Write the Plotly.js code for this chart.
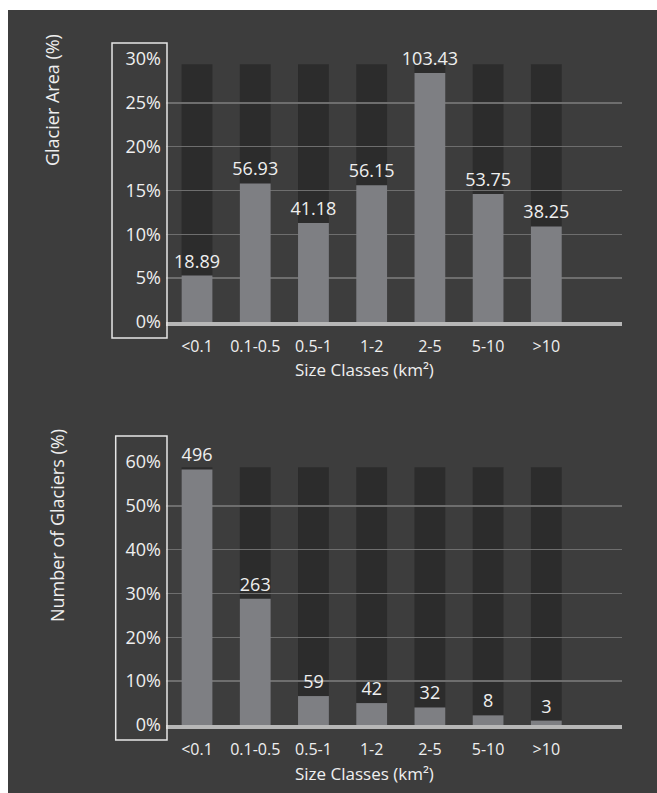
<!DOCTYPE html>
<html><head><meta charset="utf-8">
<script src="https://cdn.plot.ly/plotly-3.0.1.min.js"></script>
<style>
html,body{margin:0;padding:0;background:#ffffff;width:657px;height:793px;overflow:hidden}
#chart{position:absolute;left:8px;top:10px;width:649px;height:783px}
</style>
</head><body><div id="chart"></div>
<script>
// ---- data ----
const categories = ['<0.1', '0.1-0.5', '0.5-1', '1-2', '2-5', '5-10', '>10'];
const areaPct = [5.3, 15.8, 11.3, 15.6, 28.4, 14.6, 10.9];
const areaLabels = ['18.89', '56.93', '41.18', '56.15', '103.43', '53.75', '38.25'];
const countPct = [58.3, 28.8, 6.6, 5.0, 4.0, 2.2, 1.0];
const countLabels = ['496', '263', '59', '42', '32', '8', '3'];
const areaColumn = [29.4, 29.4, 29.4, 29.4, 29.4, 29.4, 29.4];
const countColumn = [58.8, 58.8, 58.8, 58.8, 58.8, 58.8, 58.8];
const areaTicks = [0, 5, 10, 15, 20, 25, 30];
const areaTickText = ['0%', '5%', '10%', '15%', '20%', '25%', '30%'];
const countTicks = [0, 10, 20, 30, 40, 50, 60];
const countTickText = ['0%', '10%', '20%', '30%', '40%', '50%', '60%'];

const FONT = 'Open Sans, Noto Sans, sans-serif';
const TXT = '#efefef';
const BAR = '#7e7f83';
const COL = '#2c2c2c';
const BW = 0.53;

const traces = [
  {type:'bar', x:categories, y:areaPct, xaxis:'x', yaxis:'y', width:BW,
   marker:{color:BAR, line:{width:0}}, text:areaLabels, texttemplate:'%{text}',
   textposition:'outside', cliponaxis:false, constraintext:'none',
   textfont:{family:FONT, size:18, color:TXT}, showlegend:false},
  {type:'bar', x:categories, y:countPct, xaxis:'x2', yaxis:'y2', width:BW,
   marker:{color:BAR, line:{width:0}}, text:countLabels, texttemplate:'%{text}',
   textposition:'outside', cliponaxis:false, constraintext:'none',
   textfont:{family:FONT, size:18, color:TXT}, showlegend:false}
];

// dark background columns behind each category (drawn beneath the gridlines)
const columnShapes = [];
categories.forEach((c, i) => {
  columnShapes.push({type:'rect', layer:'below', xref:'x', yref:'y',
    x0:i - BW / 2, x1:i + BW / 2, y0:0, y1:areaColumn[i],
    fillcolor:COL, line:{width:0}});
  columnShapes.push({type:'rect', layer:'below', xref:'x2', yref:'y2',
    x0:i - BW / 2, x1:i + BW / 2, y0:0, y1:countColumn[i],
    fillcolor:COL, line:{width:0}});
});

const xBase = {
  type:'category', range:[-0.533, 7.30], showgrid:false, zeroline:false,
  showline:true, linecolor:'#b7b7b7', linewidth:4,
  ticks:'', ticklabelstandoff:7,
  tickfont:{family:FONT, size:16, color:TXT}, fixedrange:true
};
const yBase = {
  showgrid:true, gridcolor:'#6e6e6e', gridwidth:1.5, zeroline:false, showline:false,
  ticks:'', ticklabelstandoff:4,
  tickfont:{family:FONT, size:18, color:TXT}, fixedrange:true
};

const layout = {
  width:649, height:783,
  margin:{l:158, r:35, t:49, b:68},
  paper_bgcolor:'#3d3d3d', plot_bgcolor:'#3d3d3d',
  barmode:'overlay', showlegend:false,
  font:{family:FONT, color:TXT},
  xaxis:Object.assign({}, xBase, {anchor:'y'}),
  xaxis2:Object.assign({}, xBase, {anchor:'y2'}),
  yaxis:Object.assign({}, yBase, {domain:[0.6051, 1], range:[0, 30], tickmode:'array',
    tickvals:areaTicks, ticktext:areaTickText, anchor:'x'}),
  yaxis2:Object.assign({}, yBase, {domain:[0, 0.3949], range:[0, 60], tickmode:'array',
    tickvals:countTicks, ticktext:countTickText, anchor:'x2'}),
  shapes:columnShapes.concat([
    {type:'rect', xref:'paper', yref:'paper', x0:-0.1184, x1:0.0022, y0:0.5811, y1:1.024,
     line:{color:'#e6e6e6', width:1.5}, fillcolor:'rgba(0,0,0,0)'},
    {type:'rect', xref:'paper', yref:'paper', x0:-0.1103, x1:0.0022, y0:-0.0225, y1:0.4339,
     line:{color:'#e6e6e6', width:1.5}, fillcolor:'rgba(0,0,0,0)'}
  ]),
  annotations:[
    {text:'Glacier Area (%)', xref:'paper', yref:'paper', x:-0.25, y:0.9384,
     textangle:-90, showarrow:false, xanchor:'center', yanchor:'middle',
     font:{family:FONT, size:18, color:TXT}},
    {text:'Number of Glaciers (%)', xref:'paper', yref:'paper', x:-0.239, y:0.2988,
     textangle:-90, showarrow:false, xanchor:'center', yanchor:'middle',
     font:{family:FONT, size:18, color:TXT}},
    {text:'Size Classes (km²)', xref:'paper', yref:'paper', x:0.4364, y:0.534,
     showarrow:false, xanchor:'center', yanchor:'middle',
     font:{family:FONT, size:17, color:TXT}},
    {text:'Size Classes (km²)', xref:'paper', yref:'paper', x:0.4364, y:-0.0726,
     showarrow:false, xanchor:'center', yanchor:'middle',
     font:{family:FONT, size:17, color:TXT}}
  ]
};

Plotly.newPlot('chart', traces, layout, {displayModeBar:false, staticPlot:true});
</script>
</body></html>
